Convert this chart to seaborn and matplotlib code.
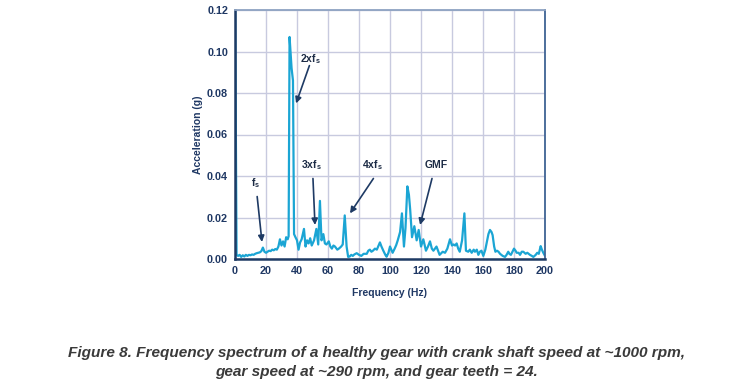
import matplotlib
matplotlib.use('Agg')
import matplotlib.pyplot as plt
import seaborn as sns

# Spectrum (Hz, g)
freq_hz = [0, 1, 2, 3, 4, 5, 6, 7, 8, 9, 10, 11, 12, 13, 14, 15, 16, 17, 18, 19,
           20, 21, 22, 23, 24, 25, 26, 27, 28, 29, 30, 31, 32, 33, 34, 34.6, 35.2, 36.5, 37.4, 38.1,
           39, 40, 41, 42, 43, 44.5, 45.5, 46.5, 47.5, 48.5, 49.5, 51, 52.5, 53.7, 54.8, 55.8, 57, 58, 59, 60.5,
           61.5, 62.5, 63.5, 64.5, 66, 67, 68.5, 69.5, 70.8, 72, 73, 74, 75, 76, 77, 78.5, 80, 81.5, 83, 85,
           86, 87, 88, 89, 90.3, 91.5, 93.5, 94.5, 95.7, 97, 97.8, 99, 100, 101.7, 103, 104, 105, 106.5, 107.7, 109,
           110, 111.2, 112.2, 113, 114.2, 115.7, 117.2, 118.5, 120, 121.5, 123.2, 124.5, 125.8, 127, 128, 130, 131, 132, 134, 135.5,
           137, 138.7, 140, 141, 142, 143, 144, 145, 146.5, 148, 149, 150.5, 151.5, 152.7, 154, 154.8, 156, 157, 158, 159,
           160.2, 161.5, 162.4, 163.5, 164.5, 165.5, 166.2, 167.2, 168, 169, 170, 171, 172.7, 174.2, 175.2, 176.3, 177, 178, 179, 180,
           181, 181.7, 183, 183.9, 185, 186, 187.5, 188.6, 190.3, 191.5, 192.5, 194, 195, 196, 197.2, 198, 198.9, 200]
accel_g = [0.135, 0.002, 0.0015, 0.002, 0.001, 0.0018, 0.0012, 0.002, 0.0015, 0.002,
           0.0018, 0.0022, 0.002, 0.0025, 0.0028, 0.003, 0.0032, 0.0038, 0.0055, 0.0035,
           0.003, 0.0035, 0.004, 0.0038, 0.0045, 0.0042, 0.0048, 0.0045, 0.006, 0.0095,
           0.0065, 0.0085, 0.006, 0.0105, 0.0095, 0.011, 0.107, 0.092, 0.086, 0.012,
           0.0105, 0.009, 0.0045, 0.008, 0.0095, 0.0145, 0.006, 0.009, 0.0075, 0.01,
           0.0065, 0.009, 0.0145, 0.007, 0.028, 0.009, 0.012, 0.0075, 0.007, 0.0085,
           0.006, 0.005, 0.0065, 0.006, 0.0045, 0.005, 0.006, 0.007, 0.021, 0.006,
           0.001, 0.0012, 0.002, 0.0015, 0.0022, 0.0028, 0.002, 0.0015, 0.0025, 0.0025,
           0.004, 0.0045, 0.0035, 0.004, 0.005, 0.0045, 0.008, 0.006, 0.004, 0.002,
           0.0011, 0.003, 0.006, 0.003, 0.005, 0.0067, 0.009, 0.013, 0.022, 0.006,
           0.015, 0.035, 0.031, 0.024, 0.0105, 0.0158, 0.009, 0.014, 0.006, 0.0095,
           0.004, 0.006, 0.0085, 0.005, 0.004, 0.006, 0.004, 0.002, 0.0035, 0.003,
           0.005, 0.0095, 0.0065, 0.007, 0.0065, 0.0075, 0.005, 0.0035, 0.009, 0.022,
           0.004, 0.0035, 0.0045, 0.003, 0.0045, 0.0035, 0.0045, 0.002, 0.0035, 0.004,
           0.0015, 0.0045, 0.008, 0.012, 0.014, 0.013, 0.0115, 0.006, 0.0035, 0.004,
           0.0035, 0.0025, 0.0015, 0.001, 0.002, 0.0035, 0.0025, 0.002, 0.0035, 0.005,
           0.004, 0.003, 0.003, 0.002, 0.0035, 0.0035, 0.0025, 0.003, 0.002, 0.0015,
           0.001, 0.002, 0.003, 0.0025, 0.0062, 0.0045, 0.003, 0.0015]

x_ticks = [0, 20, 40, 60, 80, 100, 120, 140, 160, 180, 200]
y_ticks = [0.00, 0.02, 0.04, 0.06, 0.08, 0.10, 0.12]

# label, text position, arrow tip
annotations = [
    ('f$_{s}$', (13.5, 0.0366), (17.4, 0.0082)),
    ('2xf$_{s}$', (48.5, 0.0962), (39.4, 0.075)),
    ('3xf$_{s}$', (49.5, 0.0453), (51.6, 0.0164)),
    ('4xf$_{s}$', (88.5, 0.0453), (74.2, 0.022)),
    ('GMF', (129.7, 0.0453), (119.4, 0.0164)),
]

caption = ("Figure 8. Frequency spectrum of a healthy gear with crank shaft speed at ~1000 rpm,\n"
           "gear speed at ~290 rpm, and gear teeth = 24.")

sns.set_style('white')
plt.rcParams['font.family'] = ['Liberation Sans', 'DejaVu Sans']
plt.rcParams['mathtext.fontset'] = 'custom'
plt.rcParams['mathtext.rm'] = 'Liberation Sans:bold'
plt.rcParams['mathtext.default'] = 'rm'

navy = '#1f3864'
line_col = '#1ba5d4'

fig = plt.figure(figsize=(7.36, 3.92), dpi=100)
ax = fig.add_axes([235 / 736, 1 - 259 / 392, 310 / 736, 249 / 392])

sns.lineplot(x=freq_hz, y=accel_g, ax=ax, color=line_col, linewidth=1.6, estimator=None)

ax.set_xlim(0, 200)
ax.set_ylim(0, 0.12)
ax.set_xticks(x_ticks)
ax.set_yticks(y_ticks)
ax.set_yticklabels([f'{v:.2f}' for v in y_ticks])
ax.grid(True, color='#c8cadf', linewidth=1.0)
ax.set_axisbelow(True)
ax.tick_params(length=0, pad=5, labelsize=7.8, labelcolor=navy)
for lab in ax.get_xticklabels() + ax.get_yticklabels():
    lab.set_fontweight('bold')

ax.spines['left'].set_color('#1e3a64')
ax.spines['left'].set_linewidth(1.8)
ax.spines['bottom'].set_color('#1e3a64')
ax.spines['bottom'].set_linewidth(1.8)
ax.spines['top'].set_color('#8ea3c2')
ax.spines['top'].set_linewidth(1.3)
ax.spines['right'].set_color('#3f6394')
ax.spines['right'].set_linewidth(1.3)

ax.set_xlabel('Frequency (Hz)', fontsize=7.5, fontweight='bold', color=navy, labelpad=9)
ax.set_ylabel('Acceleration (g)', fontsize=7.5, fontweight='bold', color=navy, labelpad=3)

for label, xy_text, xy_tip in annotations:
    ax.text(xy_text[0], xy_text[1], label, fontsize=7.5, fontweight='bold', color='#1c2b45',
            ha='center', va='center')
    start = (xy_text[0] + (0.8 if label != 'GMF' else -2.6), xy_text[1] - 0.0065)
    if label == '2xf$_{s}$':
        start = (xy_text[0] - 0.5, xy_text[1] - 0.003)
    ax.annotate('', xy=xy_tip, xytext=start,
                arrowprops=dict(arrowstyle='-|>', color='#1e3a64', lw=1.2, mutation_scale=9,
                                shrinkA=0, shrinkB=0))

fig.text(0.512, 0.076, caption, ha='center', va='center', fontsize=11.1, fontweight='bold',
         style='italic', color='#3a3a3a', linespacing=1.45)

fig.savefig('out.png', dpi=100)
